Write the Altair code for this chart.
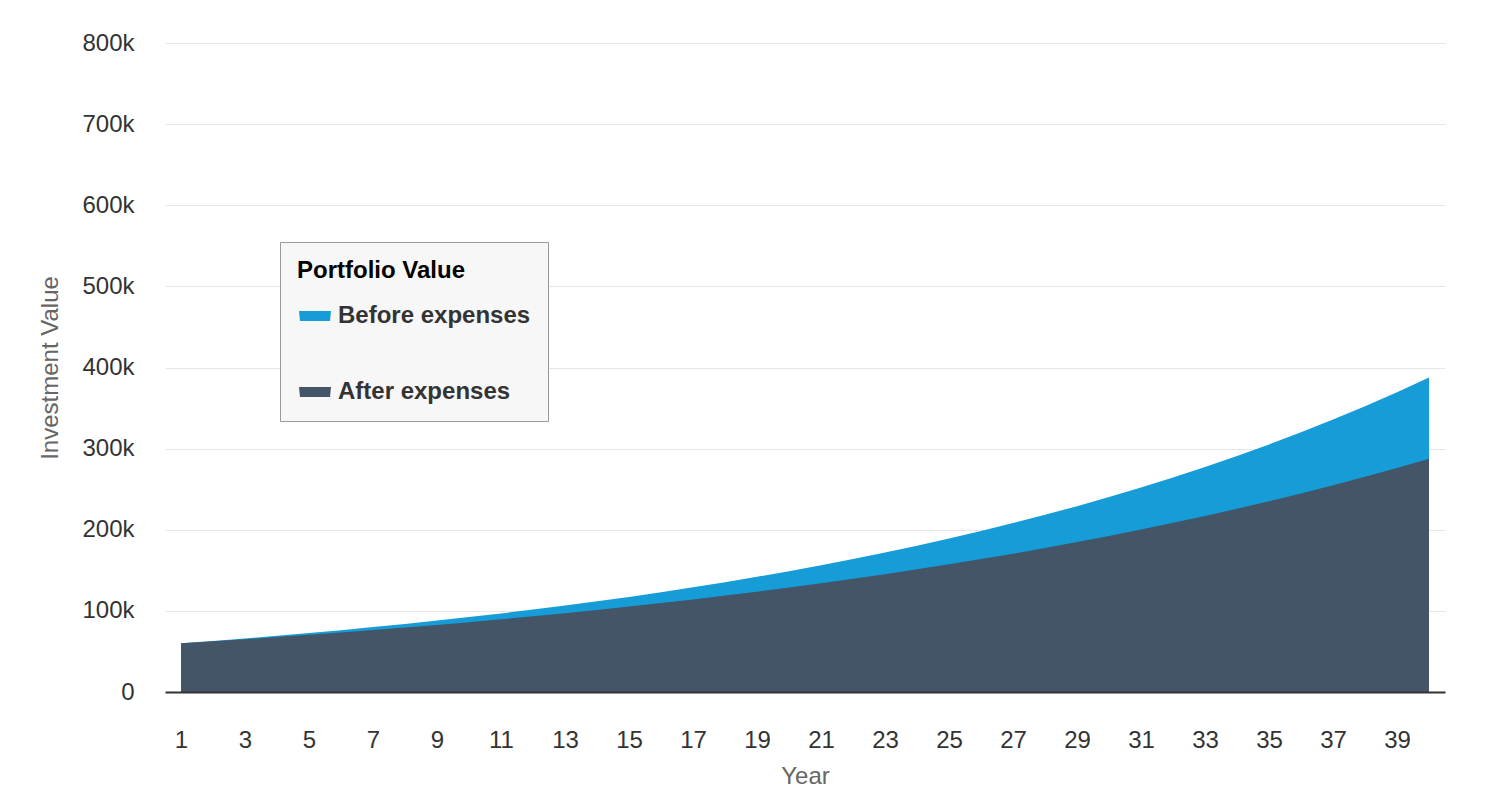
import altair as alt
import pandas as pd

years = list(range(1, 41))
before_expenses = [
    60000, 62900, 66000, 69300, 72700, 76200, 80000, 83900, 88000, 92300,
    96800, 101600, 106500, 111800, 117200, 123000, 129000, 135300, 142000, 148900,
    156200, 163900, 171900, 180300, 189200, 198400, 208200, 218400, 229100, 240300,
    252100, 264400, 277400, 291000, 305200, 320200, 335900, 352300, 369600, 387700,
]
after_expenses = [
    60000, 62500, 65000, 67700, 70500, 73300, 76300, 79500, 82700, 86100,
    89700, 93300, 97200, 101100, 105300, 109600, 114100, 118800, 123600, 128700,
    134000, 139500, 145200, 151200, 157400, 163800, 170500, 177500, 184800, 192400,
    200300, 208500, 217000, 225900, 235200, 244800, 254900, 265300, 276200, 287500,
]
series_names = ["Before expenses", "After expenses"]
series_colors = ["#169dd8", "#435566"]
y_ticks = [0, 100000, 200000, 300000, 400000, 500000, 600000, 700000, 800000]
x_ticks = list(range(1, 40, 2))

df = pd.DataFrame({
    "Year": years + years,
    "Value": before_expenses + after_expenses,
    "Series": [series_names[0]] * len(years) + [series_names[1]] * len(years),
})

FONT = "Liberation Sans"

color = alt.Color(
    "Series:N",
    sort=series_names,
    scale=alt.Scale(domain=series_names, range=series_colors),
    legend=alt.Legend(
        title="Portfolio Value",
        orient="none",
        legendX=115,
        legendY=199,
        titleFont=FONT,
        titleFontSize=24,
        titleFontWeight="bold",
        titleColor="#000000",
        titleLimit=400,
        titlePadding=21,
        labelFont=FONT,
        labelFontSize=24,
        labelFontWeight="bold",
        labelColor="#333333",
        labelLimit=400,
        labelOffset=17,
        rowPadding=52,
        padding=17,
        fillColor="#f7f7f7",
        strokeColor="#999999",
        symbolType="M-1,-0.5L2.2,-0.5L2.1,0.5L-0.9,0.5Z",
        symbolSize=400,
        symbolStrokeWidth=0,
        symbolOpacity=1,
    ),
)

x_enc = alt.X(
    "Year:Q",
    scale=alt.Scale(domain=[0.5, 40.5], nice=False, zero=False),
    axis=alt.Axis(
        values=x_ticks,
        format="d",
        grid=False,
        ticks=False,
        tickSize=0,
        domainColor="#333333",
        domainWidth=2,
        labelFont=FONT,
        labelFontSize=24,
        labelColor="#333333",
        labelPadding=36,
        title="Year",
        titleFont=FONT,
        titleFontSize=24,
        titleFontWeight="normal",
        titleColor="#666666",
        titlePadding=12,
        zindex=1,
    ),
)

y_enc = alt.Y(
    "Value:Q",
    stack=None,
    scale=alt.Scale(domain=[0, 800000], nice=False),
    axis=alt.Axis(
        values=y_ticks,
        labelExpr="datum.value == 0 ? '0' : (datum.value / 1000) + 'k'",
        grid=True,
        gridColor="#e6e6e6",
        gridWidth=1,
        domain=False,
        ticks=False,
        tickSize=0,
        labelFont=FONT,
        labelFontSize=24,
        labelColor="#333333",
        labelPadding=31,
        title="Investment Value",
        titleFont=FONT,
        titleFontSize=24,
        titleFontWeight="normal",
        titleColor="#666666",
        titlePadding=19,
    ),
)

base = alt.Chart(df).encode(x=x_enc, y=y_enc, color=color)

before_layer = base.transform_filter(alt.datum.Series == series_names[0]).mark_area(opacity=1)
after_layer = base.transform_filter(alt.datum.Series == series_names[1]).mark_area(opacity=1)

chart = (
    alt.layer(before_layer, after_layer)
    .properties(
        width=1280,
        height=649,
        autosize=alt.AutoSizeParams(type="none"),
        padding={"left": 157, "top": 35, "right": 32, "bottom": 97},
        background="white",
    )
    .configure_view(stroke=None)
)

chart.save("out.html", embed_options={"renderer": "svg", "actions": False})
